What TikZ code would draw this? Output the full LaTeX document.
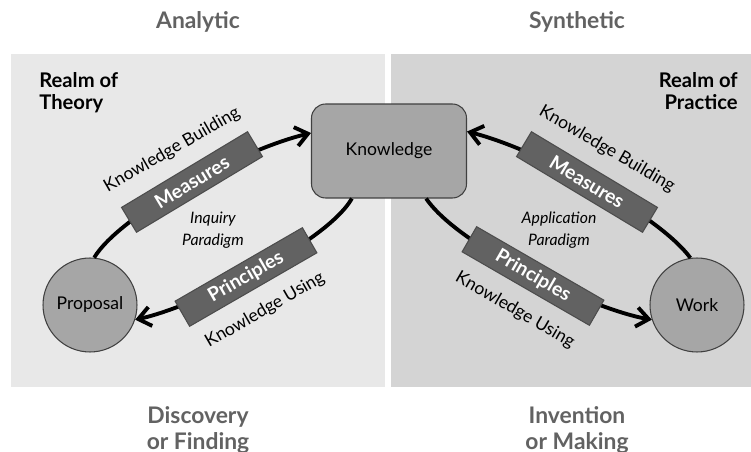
\documentclass[tikz,border=0pt]{standalone}
\usepackage{fontspec}
\setmainfont{Lato}
\usepackage{xcolor}
\usepackage{tikz}
\usetikzlibrary{arrows.meta}

\definecolor{cinzaTitulo}{HTML}{626262}
\definecolor{fundoEsq}{HTML}{E8E8E8}
\definecolor{fundoDir}{HTML}{D4D4D4}
\definecolor{cinzaNo}{HTML}{A6A6A6}
\definecolor{cinzaCaixa}{HTML}{626262}

\begin{document}
\begin{tikzpicture}[
		    x=0.02cm, y=-0.02cm,
		    every node/.style={inner sep=0pt}
		]
		\tikzset{
		    titulo/.style={text=cinzaTitulo, font=\fontsize{13}{14.5}\selectfont\bfseries, align=center},
		    reino/.style={font=\fontsize{11.5}{12.5}\selectfont\bfseries},
		    no/.style={draw=black!75, fill=cinzaNo, line width=0.6pt, font=\fontsize{10}{12}\selectfont},
		    caixa/.style={draw=black!70, fill=cinzaCaixa, text=white, line width=0.6pt,
		        minimum width=2.94cm, minimum height=0.58cm, font=\fontsize{11}{12}\selectfont\bfseries},
		    rotulo/.style={font=\fontsize{10}{12}\selectfont},
		    paradigma/.style={font=\fontsize{9}{12.5}\selectfont\itshape, align=center},
		    seta/.style={line width=2.2pt, -{Straight Barb[length=7pt,width=11pt]}}
		}
		\useasboundingbox (0,0) rectangle (751,452);
		% paineis
		\fill[fundoEsq] (11,54) rectangle (385,387);
		\fill[fundoDir] (391,54) rectangle (751,387);
		% titulos
		\node[titulo] (analitico) at (198,22) {Analytic};
		\node[titulo] (sintetico) at (577,22) {Synthetic};
		\node[titulo] (descoberta) at (198,430) {Discovery\\or Finding};
		\node[titulo] (invencao) at (577,430) {Invention\\or Making};
		\node[reino, align=left, anchor=north west] (teoria) at (39,72) {Realm of\\Theory};
		\node[reino, align=right, anchor=north east] (pratica) at (738,72) {Realm of\\Practice};
		% nos
		\node[no, rounded corners=8pt, minimum width=3.1cm, minimum height=1.88cm] (conhecimento) at (389,151) {Knowledge};
		\node[no, circle, minimum size=1.88cm] (proposta) at (90,305) {Proposal};
		\node[no, circle, minimum size=1.88cm] (obra) at (697,305) {Work};
		% setas
		\draw[seta] (proposta.85) .. controls (120,215) and (240,150) .. (conhecimento.167);
		\draw[seta] (conhecimento.232) .. controls (325,245) and (190,308) .. (proposta.342);
		\draw[seta] (obra.98) .. controls (659,215) and (537,149) .. (conhecimento.14);
		\draw[seta] (conhecimento.308) .. controls (460,248) and (595,310) .. (obra.198);
		% caixas
		\node[caixa, rotate=31] (medidasEsq) at (192,182) {Measures};
		\node[caixa, rotate=30] (principiosEsq) at (246,277) {Principles};
		\node[caixa, rotate=-31] (medidasDir) at (587,182) {Measures};
		\node[caixa, rotate=-30] (principiosDir) at (533,276) {Principles};
		% rotulos
		\node[rotulo, rotate=30] (construcaoEsq) at (172,150) {Knowledge Building};
		\node[rotulo, rotate=30] (usoEsq) at (265,310) {Knowledge Using};
		\node[rotulo, rotate=-30] (construcaoDir) at (607,149) {Knowledge Building};
		\node[rotulo, rotate=-30] (usoDir) at (515,310) {Knowledge Using};
		\node[paradigma] (inquerito) at (213,230) {Inquiry\\Paradigm};
		\node[paradigma] (aplicacao) at (559,230) {Application\\Paradigm};
\end{tikzpicture}
\end{document}
